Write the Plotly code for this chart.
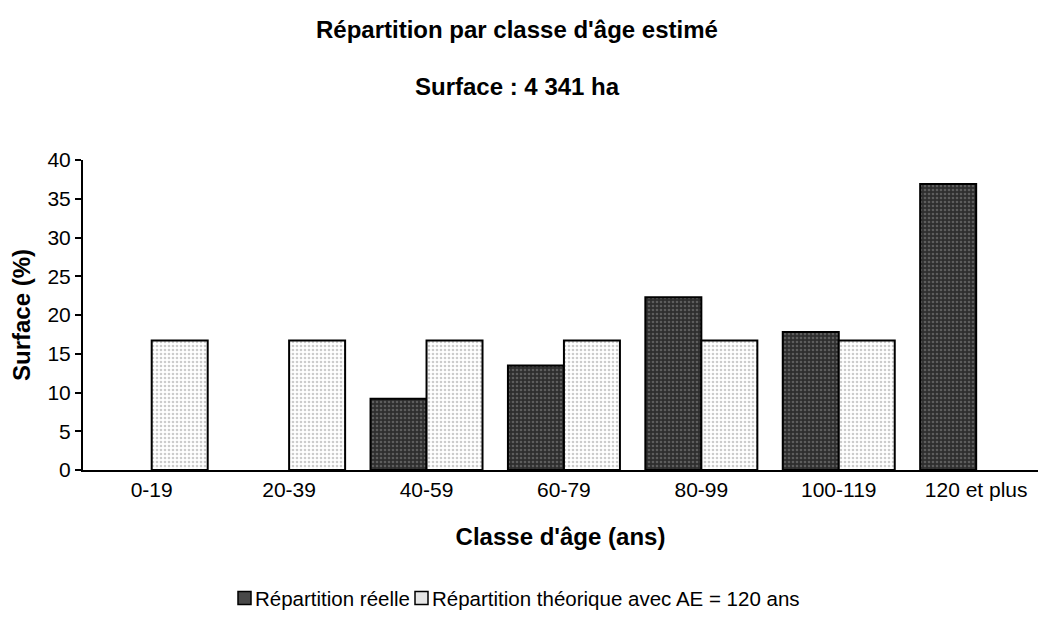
import plotly.graph_objects as go

categories = ["0-19", "20-39", "40-59", "60-79", "80-99", "100-119", "120 et plus"]
reelle = [None, None, 9.2, 13.5, 22.3, 17.8, 36.9]
theorique = [16.7, 16.7, 16.7, 16.7, 16.7, 16.7, None]
y_ticks = [0, 5, 10, 15, 20, 25, 30, 35, 40]
series_names = ["Répartition réelle", "Répartition théorique avec AE = 120 ans"]

FONT = "Arial, 'Liberation Sans', sans-serif"
DARK_BG, DARK_FG = "#2e2e2e", "#8c8c8c"
LIGHT_BG, LIGHT_FG = "white", "#9a9a9a"

fig = go.Figure()
fig.add_trace(go.Bar(
    x=categories, y=reelle, name=series_names[0], showlegend=False,
    marker=dict(color=DARK_BG, line=dict(color="black", width=2),
                pattern=dict(shape=".", bgcolor=DARK_BG, fgcolor=DARK_FG,
                             size=4, solidity=0.35, fillmode="overlay")),
))
fig.add_trace(go.Bar(
    x=categories, y=theorique, name=series_names[1], showlegend=False,
    marker=dict(color=LIGHT_BG, line=dict(color="black", width=2),
                pattern=dict(shape=".", bgcolor=LIGHT_BG, fgcolor=LIGHT_FG,
                             size=4, solidity=0.35, fillmode="overlay")),
))

L, T, B = 83, 160, 153
W, H = 1038, 623
pw = W - L
ph = H - T - B


def px(x):
    return (x - L) / pw


def py(y):
    return (H - B - y) / ph


# legend (swatches + labels, tight Excel-like spacing)
leg_y = 598
swatches = [(238, "#484848"), (415, "#e6e6e6")]
label_x = [253, 430]
shapes = []
annotations = []
for (sx, col), lx, name in zip(swatches, label_x, series_names):
    shapes.append(dict(type="rect", xref="paper", yref="paper",
                       x0=px(sx), x1=px(sx + 13), y0=py(leg_y - 6.5), y1=py(leg_y + 6.5),
                       fillcolor=col, line=dict(color="black", width=1.5)))
    annotations.append(dict(text=name, x=px(lx), y=py(leg_y), xref="paper", yref="paper",
                            xanchor="left", yanchor="middle", showarrow=False,
                            font=dict(size=20.5)))

annotations += [
    dict(text="<b>Répartition par classe d'âge estimé</b>",
         x=px(517), y=py(29), xref="paper", yref="paper",
         xanchor="center", yanchor="middle", showarrow=False, font=dict(size=24)),
    dict(text="<b>Surface : 4 341 ha</b>",
         x=px(517), y=py(87), xref="paper", yref="paper",
         xanchor="center", yanchor="middle", showarrow=False, font=dict(size=24)),
]

fig.update_layout(
    width=W, height=H,
    paper_bgcolor="white", plot_bgcolor="white",
    barmode="group", bargap=0.185, bargroupgap=0,
    margin=dict(l=L, r=0, t=T, b=B),
    font=dict(family=FONT, size=21, color="black"),
    showlegend=False,
    shapes=shapes,
    annotations=annotations,
)

fig.update_xaxes(
    range=[-0.5, 6.45], showline=True, linecolor="black", linewidth=2,
    ticks="", showgrid=False, tickfont=dict(size=21),
    title=dict(text="<b>Classe d'âge (ans)</b>", font=dict(size=24), standoff=28),
)
fig.update_yaxes(
    range=[0, 40], tickvals=y_ticks, showline=True, linecolor="black", linewidth=2,
    ticks="outside", ticklen=6, tickcolor="black", tickwidth=1.5, showgrid=False,
    zeroline=False, tickfont=dict(size=21),
    title=dict(text="<b>Surface (%)</b>", font=dict(size=24), standoff=10),
)

fig.write_html("out.html", config={"displayModeBar": False},
               post_script="document.body.style.margin='0';")
